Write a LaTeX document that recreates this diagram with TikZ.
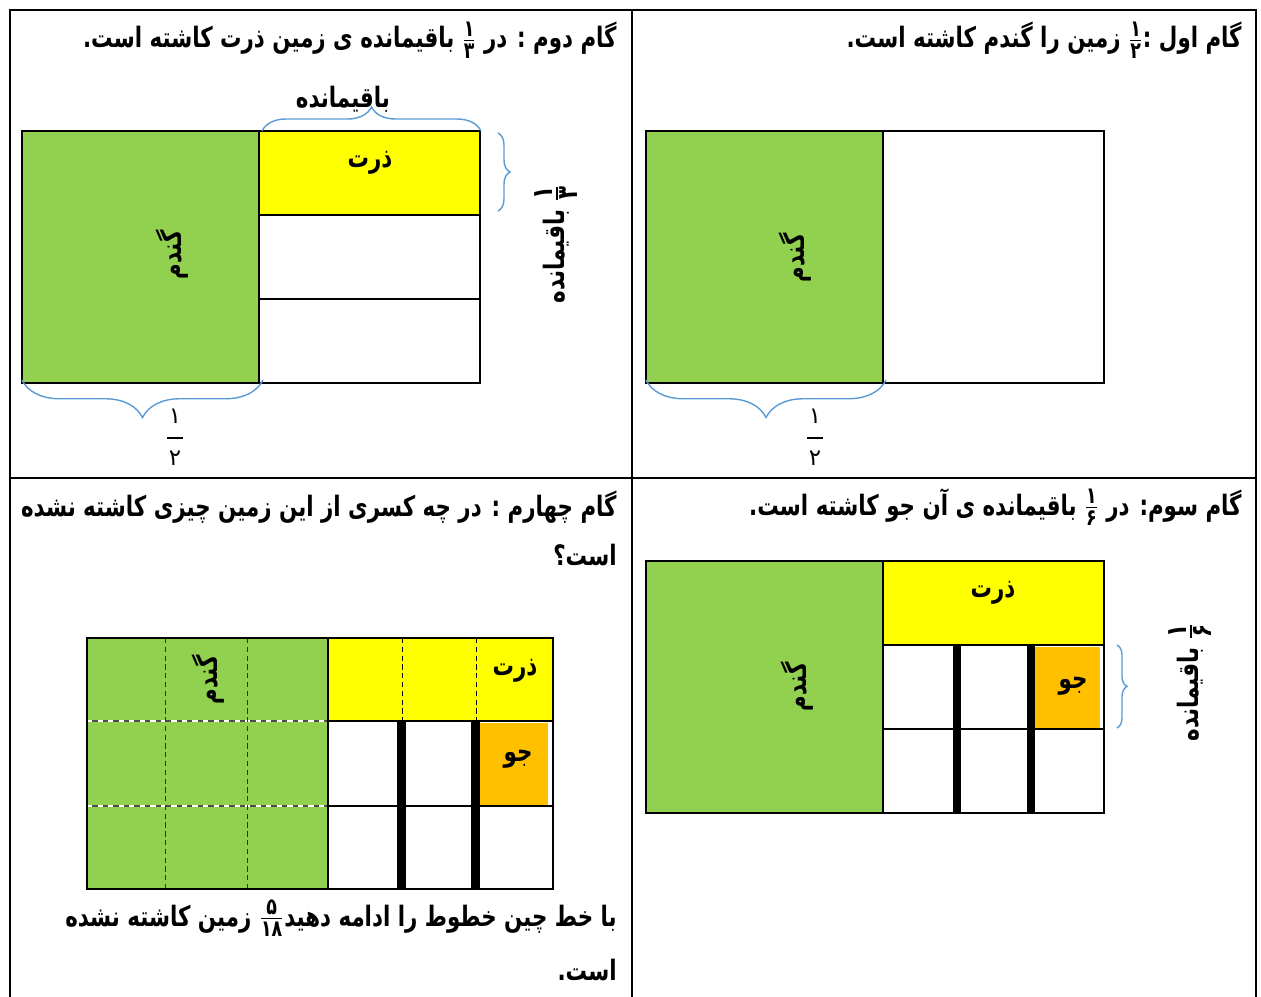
\documentclass[tikz,border=0pt]{standalone}
\usepackage{amsmath}
\usepackage{fontspec}
\usepackage{tikz}
\usetikzlibrary{positioning}
\usetikzlibrary{decorations.pathreplacing}
\usepackage{xcolor}
\TeXXeTstate=1
\newfontfamily\arabicfont[Script=Arabic,FakeStretch=0.76]{DejaVu Sans}
\newfontfamily\digitfont[Script=Arabic]{DejaVu Sans}
\definecolor{wheat}{HTML}{92D050}
\definecolor{corn}{HTML}{FFFF00}
\definecolor{barley}{HTML}{FFC000}
\definecolor{bracecol}{HTML}{5B9BD5}
\newcommand{\pfr}[2]{\ensuremath{\genfrac{}{}{0.8pt}{}{\hbox{\fontsize{13}{13}\selectfont #1}}{\hbox{\fontsize{13}{13}\selectfont #2}}}}
\newcommand{\pfrb}[2]{\ensuremath{\genfrac{}{}{0.9pt}{}{\hbox{\fontsize{16}{16}\selectfont #1}}{\hbox{\fontsize{16}{16}\selectfont #2}}}}
\newcommand{\bfr}[2]{#1\\\rule[3pt]{9pt}{1pt}\\#2}
\tikzset{
  cell/.style={draw=black,line width=1.3pt},
  brc/.style={draw=bracecol,line width=0.8pt,decorate,decoration={brace,amplitude=#1}},
  title/.style={anchor=east,inner sep=0pt,font=\arabicfont\bfseries\fontsize{16}{19}\selectfont},
  lab/.style={inner sep=0pt,font=\arabicfont\bfseries\fontsize{16}{19}\selectfont},
  frc/.style={align=center,inner sep=0pt,font=\digitfont\fontsize{13}{12}\selectfont},
  bar/.style={fill=black}
}

\begin{document}
\begin{tikzpicture}[x=0.02cm,y=-0.02cm]
  \useasboundingbox (0,0) rectangle (1261,997);
  % frame of the four steps
  \draw[line width=1.2pt] (10,997) -- (10,10) -- (1256,10) -- (1256,997);
  \draw[line width=1.2pt] (632,10) -- (632,997) (10,478) -- (1256,478);

  % step 1: half of the land is wheat
  \node[title] (t1) at (1242,40) {\beginR گام اول :\pfr{۱}{۲}  زمین را گندم کاشته است.\endR};
  \filldraw[cell,fill=wheat] (646,131) rectangle (883,383);
  \draw[cell] (883,131) rectangle (1104,383);
  \node[lab,rotate=90] (g1) at (795,258) {گندم};
  \draw[brc=0.75cm] (886,380) -- (646,380);
  \node[frc] (f1) at (815,437) {\bfr{١}{٢}};

  % step 2: a third of the rest is corn
  \node[title] (t2) at (617,40) {\beginR گام دوم : در \pfr{۱}{۳}  باقیمانده ی زمین ذرت کاشته است.\endR};
  \filldraw[cell,fill=wheat] (22,131) rectangle (259,383);
  \filldraw[cell,fill=corn] (259,131) rectangle (480,215);
  \draw[cell] (259,215) rectangle (480,299) (259,299) rectangle (480,383);
  \node[lab] (z2) at (370,163) {ذرت};
  \node[lab,rotate=90] (g2) at (172,255) {گندم};
  \draw[brc=0.48cm] (262,131) -- (481,131);
  \node[lab] (r2) at (343,99) {باقیمانده};
  \draw[brc=0.24cm] (498,133) -- (498,211);
  \node[lab,rotate=90] (q2) at (556,244) {\beginR\pfrb{۱}{۳} باقیمانده\endR};
  \draw[brc=0.75cm] (263,380) -- (22,380);
  \node[frc] (f2) at (175,437) {\bfr{١}{٢}};

  % step 3: a sixth of the rest is barley
  \node[title] (t3) at (1242,507) {\beginR گام سوم: در \pfr{۱}{۶} باقیمانده ی آن جو کاشته است.\endR};
  \filldraw[cell,fill=wheat] (646,561) rectangle (883,813);
  \filldraw[cell,fill=corn] (883,561) rectangle (1104,645);
  \fill[barley] (1035,647) rectangle (1100,729);
  \draw[cell] (883,645) rectangle (1104,729) (883,729) rectangle (1104,813);
  \fill[bar] (953,645) rectangle (961,813); \fill[bar] (1027,645) rectangle (1035,813);
  \node[lab] (z3) at (993,593) {ذرت};
  \node[lab] (j3) at (1073,686) {جو};
  \node[lab,rotate=90] (g3) at (797,687) {گندم};
  \draw[brc=0.2cm] (1117,645) -- (1117,728);
  \node[lab,rotate=90] (q3) at (1190,682) {\beginR\pfrb{۱}{۶} باقیمانده\endR};

  % step 4: which part is left empty
  \node[title] (t4a) at (617,507) {\beginR گام چهارم : در چه کسری از این زمین چیزی کاشته نشده\endR};
  \node[title] (t4b) at (617,555) {\beginR است؟\endR};
  \fill[wheat] (87,638) rectangle (328,889);
  \fill[corn] (328,638) rectangle (553,721);
  \fill[barley] (480,723) rectangle (548,805);
  \draw[gray!60!black,line width=1pt] (87,721) -- (328,721) (87,806) -- (328,806);
  \draw[white,dashed,line width=1pt] (87,721) -- (328,721) (87,806) -- (328,806);
  \draw[black!80,densely dashed,line width=0.5pt] (165,638) -- (165,889) (247,638) -- (247,889);
  \draw[black,densely dashed,line width=0.5pt] (402,638) -- (402,721) (476,638) -- (476,721);
  \draw[cell] (328,721) -- (553,721) (328,806) -- (553,806);
  \fill[bar] (397,721) rectangle (406,889); \fill[bar] (471,721) rectangle (480,889);
  \draw[cell] (87,638) rectangle (553,889) (328,638) -- (328,889);
  \node[lab] (z4) at (515,671) {ذرت};
  \node[lab] (j4) at (518,759) {جو};
  \node[lab,rotate=90] (g4) at (208,680) {گندم};
  \node[title] (b4a) at (617,918) {\beginR با خط چین خطوط را ادامه دهید\pfr{۵}{۱۸} زمین کاشته نشده\endR};
  \node[title] (b4b) at (617,970) {\beginR است.\endR};
\end{tikzpicture}
\end{document}
